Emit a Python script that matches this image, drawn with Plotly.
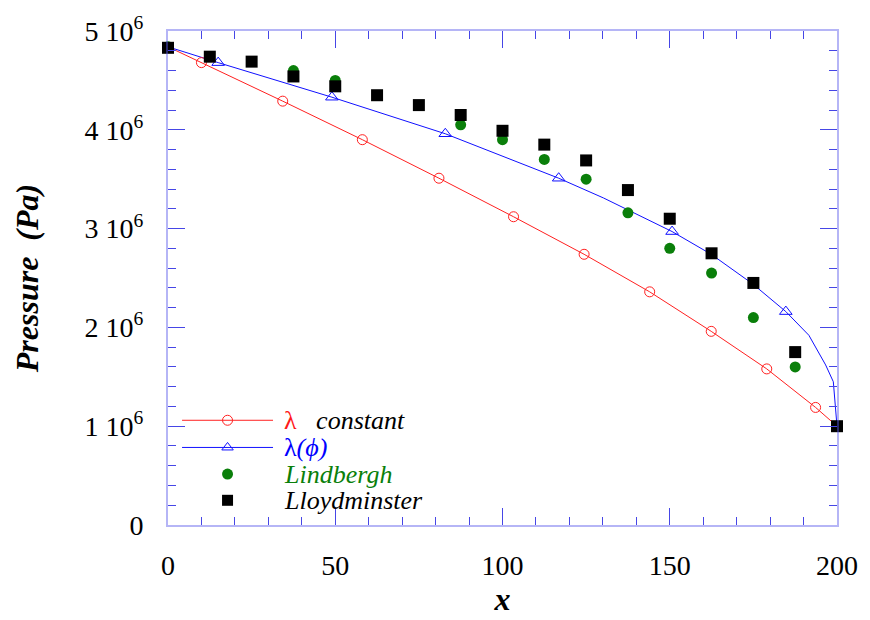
import plotly.graph_objects as go

# lambda constant model (curve + circle markers)
lc_line_x = [0, 10.0, 34.3, 58.1, 81.0, 103.3, 124.4, 144.0, 162.4, 179.0, 193.6, 200]
lc_line_y = [4.84e6, 4.68e6, 4.29e6, 3.90e6, 3.51e6, 3.12e6, 2.74e6, 2.36e6, 1.96e6, 1.58e6, 1.19e6, 1.00e6]
lc_mark_x = [10.0, 34.3, 58.1, 81.0, 103.3, 124.4, 144.0, 162.4, 179.0, 193.6]
lc_mark_y = [4.68e6, 4.29e6, 3.90e6, 3.51e6, 3.12e6, 2.74e6, 2.36e6, 1.96e6, 1.58e6, 1.19e6]

# lambda(phi) model (curve + triangle markers)
lp_line_x = [0, 15.0, 49.0, 82.9, 116.8, 130.2, 150.7, 162.4, 174.8, 184.7, 191.6, 196.6, 198.9, 200]
lp_line_y = [4.84e6, 4.68e6, 4.33e6, 3.96e6, 3.51e6, 3.31e6, 2.97e6, 2.74e6, 2.44e6, 2.16e6, 1.92e6, 1.62e6, 1.45e6, 1.00e6]
lp_mark_x = [15.0, 49.0, 82.9, 116.8, 150.7, 184.7]
lp_mark_y = [4.68e6, 4.33e6, 3.96e6, 3.51e6, 2.97e6, 2.16e6]

# Lindbergh field data
lind_x = [0, 37.5, 50, 87.5, 100, 112.5, 125, 137.5, 150, 162.5, 175, 187.5, 200]
lind_y = [4.84e6, 4.60e6, 4.50e6, 4.05e6, 3.90e6, 3.70e6, 3.50e6, 3.16e6, 2.80e6, 2.55e6, 2.10e6, 1.60e6, 1.00e6]

# Lloydminster field data
lloyd_x = [0, 12.5, 25, 37.5, 50, 62.5, 75, 87.5, 100, 112.5, 125, 137.5, 150, 162.5, 175, 187.5, 200]
lloyd_y = [4.83e6, 4.74e6, 4.69e6, 4.54e6, 4.44e6, 4.35e6, 4.25e6, 4.15e6, 3.99e6, 3.85e6, 3.69e6,
           3.39e6, 3.10e6, 2.75e6, 2.45e6, 1.75e6, 1.00e6]

y_tickvals = [0, 1e6, 2e6, 3e6, 4e6, 5e6]
y_ticktext = ["0", "1 10<sup>6</sup>", "2 10<sup>6</sup>", "3 10<sup>6</sup>", "4 10<sup>6</sup>", "5 10<sup>6</sup>"]
x_tickvals = [0, 50, 100, 150, 200]

legend_labels = [
    "<span style='color:#ff1a1a'>λ</span>\u00a0\u00a0\u00a0<i>constant</i>",
    "<span style='color:#0000ff'>λ<i>(ϕ)</i></span>",
    "<span style='color:#0a7f0a'><i>Lindbergh</i></span>",
    "<i>Lloydminster</i>",
]

RED = "#ff2020"
BLUE = "#1010ff"
GREEN = "#0a7f0a"
BLACK = "#000000"
FONT = "Liberation Serif, Times New Roman, serif"

# legend geometry (fractions of the plot area)
LEG_ROWS = [0.212, 0.157, 0.103, 0.050]
LEG_LINE = [0.021, 0.157]
LEG_MARK = 0.089
LEG_TEXT = 0.171

fig = go.Figure()
# curves
fig.add_trace(go.Scatter(x=lc_line_x, y=lc_line_y, mode="lines", line=dict(color=RED, width=1),
                         showlegend=False, hoverinfo="skip", cliponaxis=False))
fig.add_trace(go.Scatter(x=lp_line_x, y=lp_line_y, mode="lines", line=dict(color=BLUE, width=1),
                         showlegend=False, hoverinfo="skip", cliponaxis=False))
# markers
fig.add_trace(go.Scatter(x=lc_mark_x, y=lc_mark_y, mode="markers", showlegend=False, cliponaxis=False,
                         marker=dict(symbol="circle-open", size=10, color=RED, line=dict(width=1, color=RED))))
fig.add_trace(go.Scatter(x=lp_mark_x, y=lp_mark_y, mode="markers", showlegend=False, cliponaxis=False,
                         marker=dict(symbol="triangle-up-open", size=11, color=BLUE, line=dict(width=1, color=BLUE))))
fig.add_trace(go.Scatter(x=lind_x, y=lind_y, mode="markers", showlegend=False, cliponaxis=False,
                         marker=dict(symbol="circle", size=11, color=GREEN, line=dict(width=0))))
fig.add_trace(go.Scatter(x=lloyd_x, y=lloyd_y, mode="markers", showlegend=False, cliponaxis=False,
                         marker=dict(symbol="square", size=12, color=BLACK, line=dict(width=0))))

# hand-placed legend on an overlay axis (0..1 of the plot area)
for yy, col in [(LEG_ROWS[0], RED), (LEG_ROWS[1], BLUE)]:
    fig.add_trace(go.Scatter(x=LEG_LINE, y=[yy, yy], xaxis="x2", yaxis="y2", mode="lines",
                             line=dict(color=col, width=1), showlegend=False, hoverinfo="skip"))
leg_styles = [
    dict(symbol="circle-open", size=10, color=RED, line=dict(width=1, color=RED)),
    dict(symbol="triangle-up-open", size=10, color=BLUE, line=dict(width=1, color=BLUE)),
    dict(symbol="circle", size=11, color=GREEN, line=dict(width=0)),
    dict(symbol="square", size=11, color=BLACK, line=dict(width=0)),
]
for yy, st in zip(LEG_ROWS, leg_styles):
    fig.add_trace(go.Scatter(x=[LEG_MARK], y=[yy], xaxis="x2", yaxis="y2", mode="markers",
                             marker=st, showlegend=False, hoverinfo="skip"))
for yy, txt in zip(LEG_ROWS, legend_labels):
    fig.add_annotation(x=LEG_TEXT, y=yy, xref="x2", yref="y2", text=txt, showarrow=False,
                       xanchor="left", yanchor="middle",
                       font=dict(family=FONT, size=26, color="black"))

AXLINE = "rgba(90,90,235,0.45)"
TICKC = "#4646e6"

fig.update_layout(
    width=870, height=620,
    margin=dict(l=168, r=28, t=31, b=87),
    paper_bgcolor="white", plot_bgcolor="white",
    font=dict(family=FONT, color="black", size=28),
    showlegend=False,
    xaxis=dict(range=[0, 200], tickmode="array", tickvals=x_tickvals,
               ticks="inside", ticklen=17, tickwidth=1, tickcolor=TICKC,
               showline=True, linecolor=AXLINE, linewidth=2, mirror="allticks",
               showgrid=False, zeroline=False, ticklabelstandoff=14,
               tickfont=dict(family=FONT, size=28, color="black"),
               minor=dict(dtick=10, tick0=0, ticks="inside", ticklen=8, tickwidth=1, tickcolor=TICKC, showgrid=False),
               title=dict(text="<b><i>x</i></b>", font=dict(family=FONT, size=32, color="black"), standoff=5)),
    yaxis=dict(range=[0, 5e6], tickmode="array", tickvals=y_tickvals, ticktext=y_ticktext,
               ticks="inside", ticklen=17, tickwidth=1, tickcolor=TICKC,
               showline=True, linecolor=AXLINE, linewidth=2, mirror="allticks",
               showgrid=False, zeroline=False, ticklabelstandoff=17,
               tickfont=dict(family=FONT, size=28, color="black"),
               minor=dict(dtick=2e5, tick0=0, ticks="inside", ticklen=8, tickwidth=1, tickcolor=TICKC, showgrid=False),
               title=dict(text="<b><i>Pressure\u00a0\u00a0(Pa)</i></b>", font=dict(family=FONT, size=32, color="black"), standoff=36)),
    xaxis2=dict(range=[0, 1], overlaying="x", visible=False, fixedrange=True),
    yaxis2=dict(range=[0, 1], overlaying="y", visible=False, fixedrange=True),
)

fig.write_html("out.html")
